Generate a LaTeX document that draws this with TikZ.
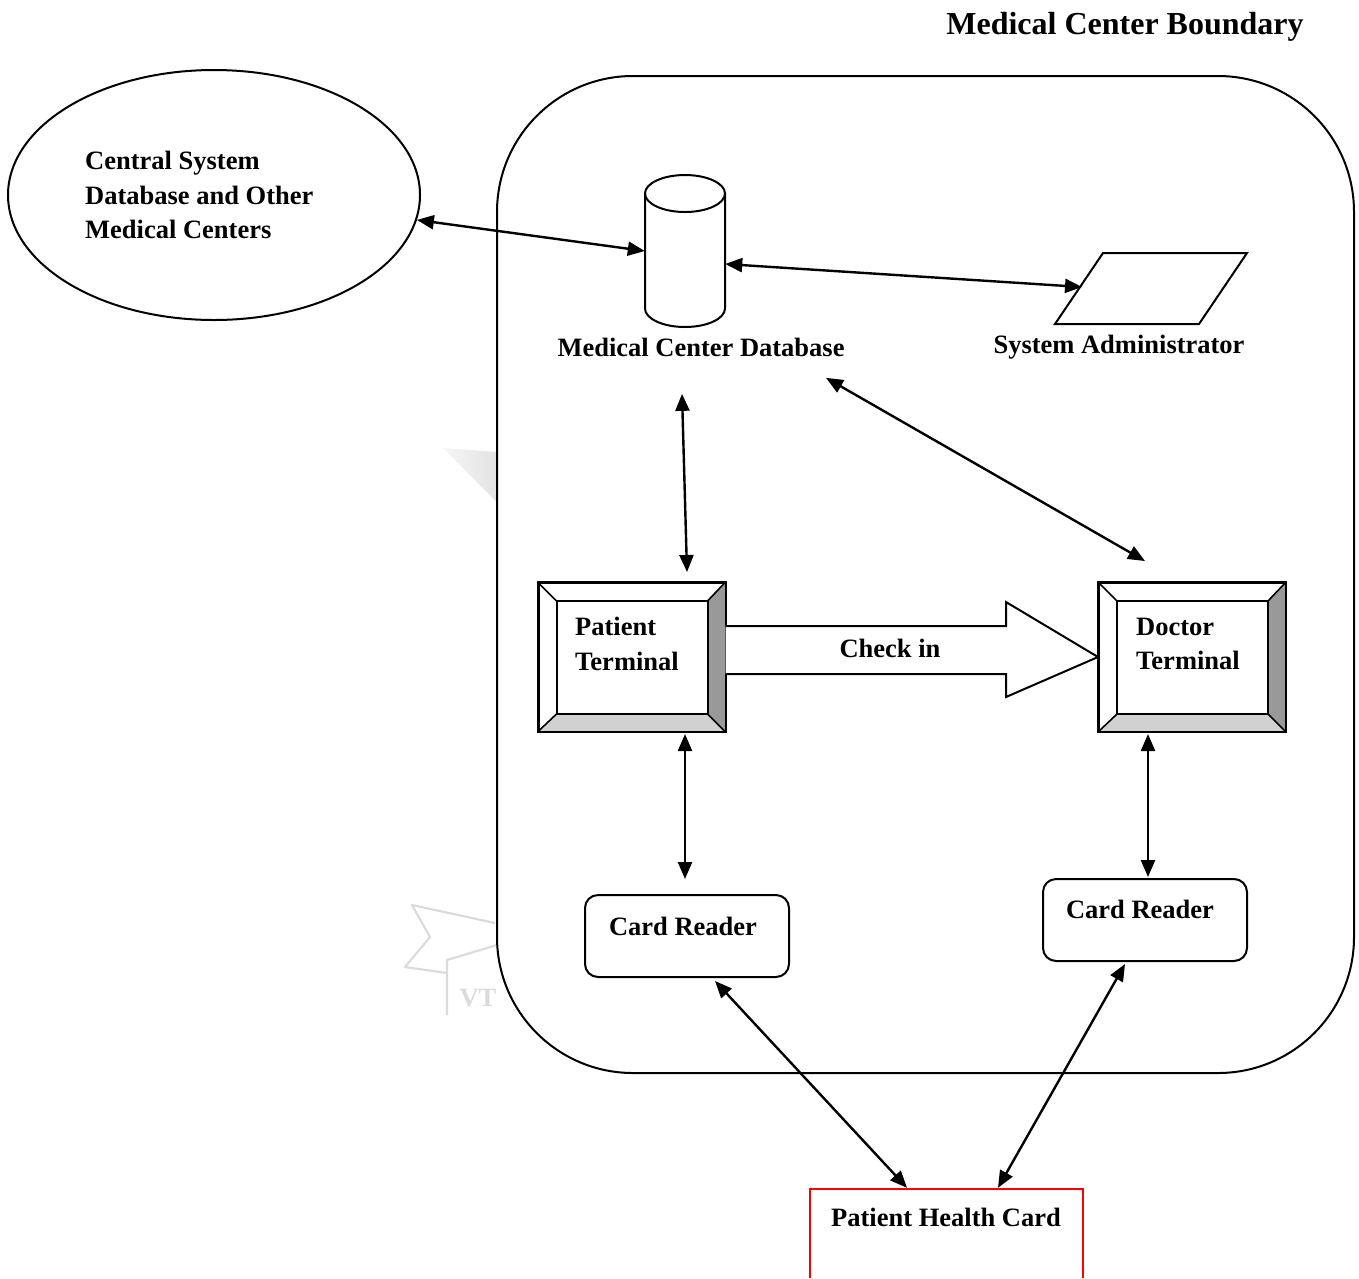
\documentclass[tikz,border=0pt]{standalone}
\usepackage{fontspec}
\setmainfont{Liberation Serif}
\usetikzlibrary{arrows.meta,shapes.geometric,calc}
\definecolor{bevelDark}{gray}{0.6}
\definecolor{bevelLight}{gray}{0.82}
\definecolor{markGray}{gray}{0.86}
\begin{document}
\begin{tikzpicture}[x=1pt,y=-1pt,
  every node/.style={font=\bfseries\fontsize{26.5}{34.5}\selectfont},
  txt/.style={inner sep=0pt, align=left},
  link/.style={line width=2.4pt, {Triangle[length=17pt,width=14pt]}-{Triangle[length=17pt,width=14pt]}},
  terminal/.style={draw, line width=2pt, minimum width=186pt, minimum height=148pt, inner sep=0pt},
  reader/.style={draw, line width=2pt, rounded corners=13pt, minimum width=204pt, minimum height=82pt, inner sep=0pt},
  ghost/.style={inner sep=0pt, minimum size=0pt}]
\useasboundingbox (0,0) rectangle (1359,1278);

% faint background emblem
\shade[left color=markGray!25, right color=markGray!80] (443,448) -- (497,452) -- (497,502) -- cycle;
\draw[markGray, line width=2.2pt, line join=round]
  (495,923) -- (412,905) -- (430,937) -- (405,967) -- (447,973)
  (447,1015) -- (447,960) -- (497,945);
\node[text=markGray] (emblemtext) at (478,998) {VT};

% system boundary
\node[anchor=center, font=\bfseries\fontsize{32}{38}\selectfont] (title) at (1125,27) {Medical Center Boundary};
\draw[line width=2pt, fill=white, rounded corners=136pt] (497,76) rectangle (1354,1073);

% external system
\node[draw, ellipse, line width=2pt, minimum width=412pt, minimum height=250pt] (ext) at (214,195) {};
\node[txt, anchor=west] (extlabel) at (85,195) {Central System\\Database and Other\\Medical Centers};

% medical center database (cylinder)
\node[ghost, minimum width=80pt, minimum height=152pt] (db) at (685,251) {};
\draw[line width=2pt] (645,193.5) -- (645,308.5)
  arc[start angle=180, end angle=0, x radius=40, y radius=18.5] -- (725,193.5);
\draw[line width=2pt] (685,193.5) ellipse[x radius=40, y radius=18.5];
\node (dblabel) at (701,347) {Medical Center Database};

% system administrator (parallelogram)
\draw[line width=2pt, line join=miter] (1103,253) -- (1247,253) -- (1199,324) -- (1055,324) -- cycle;
\coordinate (admin) at (1082,287);
\node (adminlabel) at (1119,347) {System Administrator};

% terminals
\node[terminal] (pt) at (631.5,657) {};
\node[terminal] (dt) at (1192,657) {};
\foreach \t in {pt,dt} {
  \fill[bevelDark] (\t.north east) -- (\t.south east) -- ($(\t.south east)+(-18,-18)$) -- ($(\t.north east)+(-18,19)$) -- cycle;
  \fill[bevelLight] (\t.south west) -- (\t.south east) -- ($(\t.south east)+(-18,-18)$) -- ($(\t.south west)+(19,-18)$) -- cycle;
  \draw[line width=2pt, line join=miter] (\t.north west) rectangle (\t.south east);
  \draw[line width=2pt] ($(\t.north west)+(19,19)$) rectangle ($(\t.south east)+(-18,-18)$);
  \draw[line width=1.6pt]
    (\t.north west) -- ($(\t.north west)+(19,19)$)
    (\t.north east) -- ($(\t.north east)+(-18,19)$)
    (\t.south west) -- ($(\t.south west)+(19,-18)$)
    (\t.south east) -- ($(\t.south east)+(-18,-18)$);
}
\node[txt, anchor=west] (ptlabel) at (575,644) {Patient\\Terminal};
\node[txt, anchor=west] (dtlabel) at (1136,644) {Doctor\\Terminal};

% check-in block arrow
\draw[line width=2pt, line join=miter, fill=white]
  ($(pt.east)+(0,-31)$) -- (1006,626) -- (1006,602) -- (dt.west)
  -- (1006,697) -- (1006,674) -- ($(pt.east)+(0,17)$);
\node (checkin) at (890,648) {Check in};

% card readers
\node[reader] (cr1) at (687,936) {};
\node[txt] (cr1label) at (683,926) {Card Reader};
\node[reader] (cr2) at (1145,920) {};
\node[txt] (cr2label) at (1140,909) {Card Reader};

% patient health card (open at the lower edge)
\node[ghost, minimum width=273pt, minimum height=89pt] (phc) at (946.5,1233.5) {};
\draw[red, line width=2.2pt] (phc.south west) -- (phc.north west) -- (phc.north east) -- (phc.south east);
\node[txt] (phclabel) at (946,1217) {Patient Health Card};

% connectors
\draw[link] (ext.-7) -- (db.west);
\draw[link] ($(db.east)+(0,13)$) -- (admin);
\draw[link] ($(dblabel.south)+(-19,34)$) -- ($(pt.north)+(55.5,-10)$);
\draw[link] ($(dblabel.south)+(125,18)$) -- ($(dt.north)+(-47,-21)$);
\draw[link] ($(pt.south)+(53.5,2)$) -- ($(cr1.north)+(-2,-15)$);
\draw[link] ($(dt.south)+(-44,2)$) -- ($(cr2.north)+(3,-1)$);
\draw[link] ($(cr1.south)+(28,3)$) -- ($(phc.north)+(-39.5,-1)$);
\draw[link] ($(cr2.south)+(-20,2)$) -- ($(phc.north)+(51.5,-1)$);
\end{tikzpicture}
\end{document}
